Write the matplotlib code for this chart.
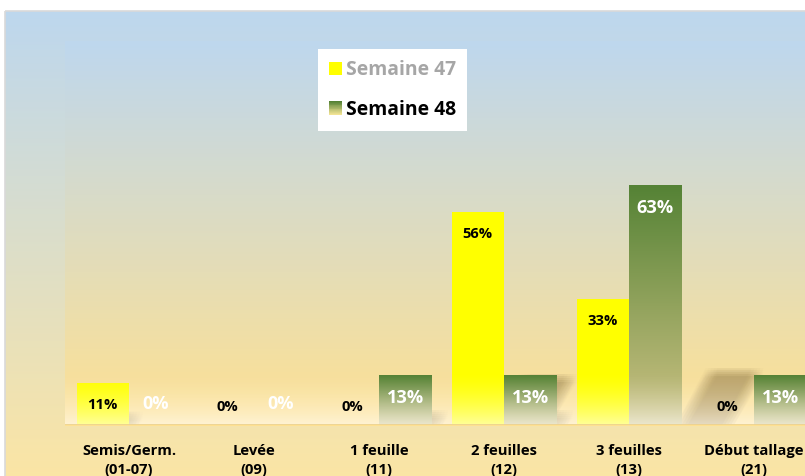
import numpy as np
import matplotlib
matplotlib.use("Agg")
import matplotlib.pyplot as plt
from matplotlib.patches import Rectangle, Polygon
from matplotlib.colors import to_rgb
from matplotlib.legend_handler import HandlerBase

# ---------------- data ----------------
categories = ["Semis/Germ.\n(01-07)", "Levée\n(09)", "1 feuille\n(11)",
              "2 feuilles\n(12)", "3 feuilles\n(13)", "Début tallage\n(21)"]
semaine_47 = [11, 0, 0, 56, 33, 0]
semaine_48 = [0, 0, 13, 13, 63, 13]
series_names = ["Semaine 47", "Semaine 48"]

FONT = 'Open Sans'
plt.rcParams['font.family'] = [FONT, 'DejaVu Sans']

W, H = 805, 476
fig = plt.figure(figsize=(W / 100, H / 100), dpi=100)
renderer = fig.canvas.get_renderer()


def fit_size(text, target_px):
    t = fig.text(0, 0, text, fontsize=10, fontweight='bold')
    wpx = t.get_window_extent(renderer).width
    t.remove()
    return 10 * target_px / wpx


fs_legend = fit_size("Semaine 47", 110)
fs_cat = fit_size("Semis/Germ.", 94)
fs_v47 = fit_size("56%", 30)
fs_v48 = fit_size("63%", 37)


def grad_img(c_top, c_bot, n=256):
    t = np.linspace(0, 1, n)
    ct = np.array(to_rgb(c_top)); cb = np.array(to_rgb(c_bot))
    img = ct[None, :] * (1 - t[:, None]) + cb[None, :] * t[:, None]
    return img[:, None, :]


# ---------------- background (pixel coordinates) ----------------
bg = fig.add_axes([0, 0, 1, 1], zorder=0)
bg.axis('off')
bg.imshow(grad_img('#BDD7EE', '#FFE6A0'), extent=(5, W + 5, H + 30, 11),
          aspect='auto', interpolation='bicubic', zorder=0)
bg.imshow(grad_img('#BED7EE', '#FFE191'), extent=(65, W + 5, 426, 41),
          aspect='auto', interpolation='bicubic', zorder=1)
bg.add_patch(Rectangle((5, 11), W, H, fill=False, edgecolor='#D9D9D9', lw=1.2, zorder=2))
bg.set_xlim(0, W); bg.set_ylim(H, 0)

# ---------------- main axes ----------------
px_per_unit = 3.81
base_px = 51
cat_px0, cat_step = 129, 125
ax = fig.add_axes([0, base_px / H, 1, (H - base_px) / H], zorder=1)
ax.patch.set_alpha(0)

x = np.arange(len(categories))
w = 0.42
xl = (-cat_px0 / cat_step, (W - cat_px0) / cat_step)
x_floor0 = (65 - cat_px0) / cat_step

# soft perspective shadows behind bars (offset and skew grow with bar height)
sh_col = to_rgb('#8A7446')
jit = [(jx, jy) for jx in (-6, -3, 0, 3, 6) for jy in (-4, -2, 0, 2, 4)]
for xs, vals in ((x - w, semaine_47), (x, semaine_48)):
    for x0, v in zip(xs, vals):
        if v <= 0:
            continue
        h_px = v * px_per_unit
        off = 0.22 * h_px / cat_step
        dy = 0.22 * v
        skew = 0.56 * 0.22 * h_px / cat_step
        for jx, jy in jit:
            ox, oy = jx / cat_step, jy / px_per_unit
            pts = [(x0 + off + ox, 0), (x0 + w + off + ox - 0.05, 0),
                   (x0 + w + off + skew + ox - 0.05, dy + oy), (x0 + off + skew + ox, dy + oy)]
            ax.add_patch(Polygon(pts, closed=True, facecolor=sh_col, edgecolor='none',
                                 alpha=0.022, zorder=1))

b47 = ax.bar(x - w, semaine_47, width=w, align='edge', color='#FFFF00', zorder=2)
b48 = ax.bar(x, semaine_48, width=w, align='edge', color='none', zorder=2)
for bar in b48:
    h = bar.get_height()
    if h <= 0:
        continue
    x0 = bar.get_x()
    im = ax.imshow(grad_img('#548235', '#CEC384'), extent=(x0, x0 + bar.get_width(), 0, h),
                   aspect='auto', interpolation='bicubic', zorder=2)
    im.set_clip_path(bar)

# floor glow overlay
floor_top = 54 / px_per_unit
n = 128
ov = np.ones((n, 1, 4))
ov[:, 0, 3] = np.linspace(0, 1, n) ** 1.6 * 0.6
ax.imshow(ov, extent=(x_floor0, xl[1], 0, floor_top), origin='upper',
          aspect='auto', interpolation='bicubic', zorder=3)

ax.hlines(0, x_floor0, xl[1], color='#EDD28E', lw=1.3, zorder=3)

# value labels
for i, v in enumerate(semaine_47):
    ax.annotate(f"{v}%", (x[i] - w / 2, v), xytext=(0, -22 if v > 0 else 18),
                textcoords='offset pixels', ha='center', va='center',
                fontsize=fs_v47, fontweight='bold', color='black', zorder=5)
for i, v in enumerate(semaine_48):
    ax.annotate(f"{v}%", (x[i] + w / 2, v), xytext=(0, -23 if v > 0 else 21),
                textcoords='offset pixels', ha='center', va='center',
                fontsize=fs_v48, fontweight='bold', color='white', zorder=5)

ax.set_xlim(*xl)
ax.set_ylim(0, (H - base_px) / px_per_unit)
ax.set_xticks(x)
ax.set_xticklabels(categories, fontsize=fs_cat, fontweight='bold', linespacing=1.42)
ax.tick_params(axis='x', length=0, pad=14)
ax.set_yticks([])
for s in ax.spines.values():
    s.set_visible(False)


# ---------------- legend ----------------
class GradHandler(HandlerBase):
    def __init__(self, c_top, c_bot):
        super().__init__()
        self.c_top = np.array(to_rgb(c_top)); self.c_bot = np.array(to_rgb(c_bot))

    def create_artists(self, legend, orig_handle, xdescent, ydescent, width, height, fontsize, trans):
        arts = []
        n = 16
        for k in range(n):
            t = k / (n - 1)
            col = self.c_top * (1 - t) + self.c_bot * t
            y = -ydescent + height * (1 - (k + 1) / n)
            arts.append(Rectangle((-xdescent, y), width, height / n + 0.3, facecolor=col,
                                  edgecolor='none', transform=trans))
        return arts


fpx = fs_legend * 100 / 72
h47 = Rectangle((0, 0), 1, 1, facecolor='#FFFF00', edgecolor='none')
h48 = Rectangle((0, 0), 1, 1, facecolor='#548235', edgecolor='none')
leg = ax.legend([h47, h48], series_names, loc='upper left',
                bbox_to_anchor=(318 / W, 1 - 49 / H), bbox_transform=fig.transFigure,
                prop={'weight': 'bold', 'size': fs_legend}, frameon=True, fancybox=False,
                framealpha=1, edgecolor='none', facecolor='white',
                handlelength=13 / fpx, handleheight=13 / fpx, handletextpad=4 / fpx,
                labelspacing=20 / fpx, borderpad=11 / fpx, borderaxespad=0,
                handler_map={h48: GradHandler('#548235', '#F2E394')})
leg.get_texts()[0].set_color('#A6A6A6')
leg.get_texts()[1].set_color('black')
leg.set_zorder(10)

fig.savefig('out.png', dpi=100)
